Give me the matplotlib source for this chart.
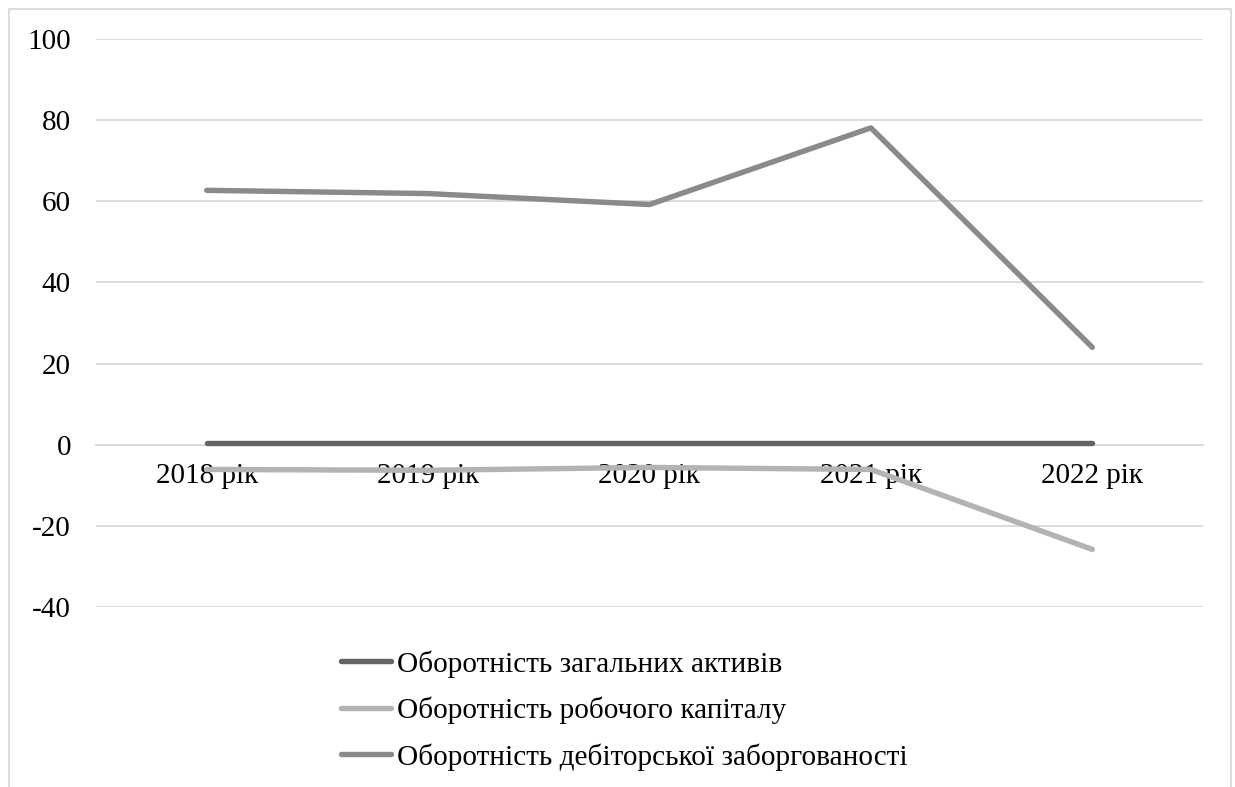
import matplotlib

matplotlib.use("Agg")

import matplotlib.pyplot as plt
from matplotlib.patches import Rectangle

years = ["2018 рік", "2019 рік", "2020 рік", "2021 рік", "2022 рік"]
total_assets = [0.4, 0.4, 0.4, 0.4, 0.4]
working_capital = [-6.1, -6.3, -5.6, -6.1, -25.8]
receivables = [62.7, 61.9, 59.2, 78.1, 24.0]

labels = [
    "Оборотність загальних активів",
    "Оборотність робочого капіталу",
    "Оборотність дебіторської заборгованості",
]
colors = ["#636363", "#b3b3b3", "#8a8a8a"]

plt.rcParams["font.family"] = ["Liberation Serif", "DejaVu Serif"]
plt.rcParams["font.size"] = 21
plt.rcParams["axes.unicode_minus"] = False

fig = plt.figure(figsize=(12.35, 7.87), dpi=100)
ax = fig.add_axes([96 / 1235, 1 - 607 / 787, (1203 - 96) / 1235, (607 - 39) / 787])

x = list(range(len(years)))
for values, label, color in zip([total_assets, working_capital, receivables], labels, colors):
    ax.plot(x, values, color=color, linewidth=3.9, solid_capstyle="round", label=label)

ax.set_xlim(-0.5, len(years) - 0.5)
ax.set_ylim(-40, 100)
ax.set_yticks(range(-40, 101, 20))
ax.set_xticks(x)
ax.set_xticklabels(years)
ax.yaxis.grid(True, color="#d9d9d9", linewidth=1.3)
ax.set_axisbelow(True)

for side in ["top", "right", "left"]:
    ax.spines[side].set_visible(False)
# category labels sit under the zero line, as in Excel
ax.spines["bottom"].set_position(("data", 0))
ax.spines["bottom"].set_color("#d9d9d9")
ax.spines["bottom"].set_linewidth(1.3)
ax.spines["bottom"].set_zorder(0.5)
ax.tick_params(axis="x", length=0, pad=13)
ax.tick_params(axis="y", length=0, pad=18)

fig.legend(
    loc="upper left",
    bbox_to_anchor=(341 / 1235, 1 - 650 / 787),
    frameon=False,
    fontsize=21.1,
    handlelength=1.71,
    handletextpad=0.2,
    labelspacing=0.65,
    borderpad=0,
    borderaxespad=0,
)

fig.patches.append(
    Rectangle((9 / 1235, -0.1), (1231 - 9) / 1235, 1.1 - 9 / 787,
              transform=fig.transFigure, fill=False, edgecolor="#d9d9d9", linewidth=1.3)
)

fig.savefig("out.png", dpi=100)
plt.close(fig)
